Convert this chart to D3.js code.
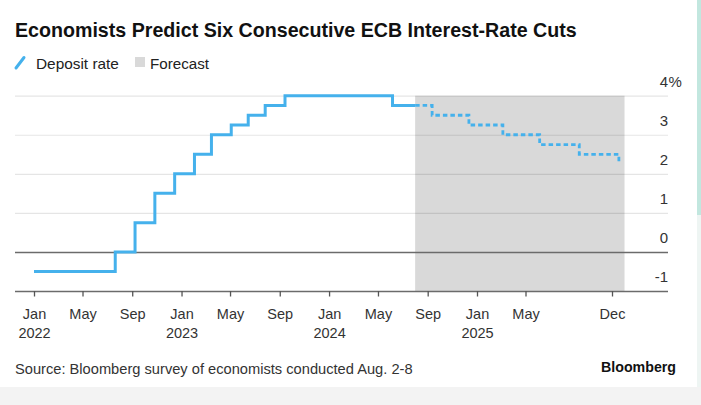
<!DOCTYPE html>
<html>
<head>
<meta charset="utf-8">
<script src="https://cdn.jsdelivr.net/npm/d3@7"></script>
<style>
  html, body { margin: 0; padding: 0; background: #fff; }
  svg { display: block; font-family: "Liberation Sans", Arial, sans-serif; }
</style>
</head>
<body>
<svg id="chart" width="701" height="405"></svg>
<script>
// ECB deposit rate: step dates (policy decisions) and the level set on each
const rateDates  = ["2022-01-01", "2022-07-21", "2022-09-08", "2022-10-27", "2022-12-15",
                    "2023-02-02", "2023-03-16", "2023-05-04", "2023-06-15", "2023-07-27",
                    "2023-09-14", "2024-06-06", "2024-08-01"];
const rateValues = [-0.5, 0, 0.75, 1.5, 2.0, 2.5, 3.0, 3.25, 3.5, 3.75, 4.0, 3.75, 3.75];

// Economists' forecast path: six consecutive cuts
const forecastDates  = ["2024-08-01", "2024-09-12", "2024-12-12", "2025-03-06",
                        "2025-06-05", "2025-09-11", "2025-12-18"];
const forecastValues = [3.75, 3.5, 3.25, 3.0, 2.75, 2.5, 2.25];

// Shaded forecast window
const forecastWindow = ["2024-08-01", "2026-01-01"];

// Axis ticks
const xTickDates  = ["2022-01-01", "2022-05-01", "2022-09-01", "2023-01-01", "2023-05-01",
                     "2023-09-01", "2024-01-01", "2024-05-01", "2024-09-01", "2025-01-01",
                     "2025-05-01", "2025-12-01"];
const xTickMonths = ["Jan", "May", "Sep", "Jan", "May", "Sep", "Jan", "May", "Sep", "Jan", "May", "Dec"];
const xTickYears  = ["2022", "", "", "2023", "", "", "2024", "", "", "2025", "", ""];
const yTicks = [-1, 0, 1, 2, 3, 4];
const yTickLabels = ["-1", "0", "1", "2", "3", "4"];

const parse = d3.utcParse("%Y-%m-%d");
const svg = d3.select("#chart");

// page edge decorations
svg.append("rect").attr("x", 697).attr("y", 0).attr("width", 4).attr("height", 215).attr("fill", "#c2e7df");
svg.append("rect").attr("x", 697).attr("y", 215).attr("width", 4).attr("height", 172).attr("fill", "#eef5f3");
svg.append("rect").attr("x", 0).attr("y", 387).attr("width", 701).attr("height", 18).attr("fill", "#f3f3f3");

const plotLeft = 15, plotRight = 668;

const x = d3.scaleUtc()
  .domain([parse("2022-01-01"), parse("2025-01-01")])
  .range([34, 477]);
const y = d3.scaleLinear().domain([-1, 4]).range([291, 95.7]);

const blue = "#45b1ec";

// title
const title = svg.append("text")
  .attr("x", 15).attr("y", 37)
  .attr("font-size", 18.5).attr("font-weight", "bold").attr("fill", "#111")
  .text("Economists Predict Six Consecutive ECB Interest-Rate Cuts");

function fitWidth(sel, w) {
  const fs = +sel.attr("font-size");
  const len = sel.node().getComputedTextLength();
  sel.attr("font-size", (fs * w / len).toFixed(2));
}
fitWidth(title, 562);

// legend
const legend = svg.append("g");
legend.append("line")
  .attr("x1", 16).attr("y1", 68).attr("x2", 24).attr("y2", 57.5)
  .attr("stroke", blue).attr("stroke-width", 3).attr("stroke-linecap", "round");
const lg1 = legend.append("text").attr("x", 36).attr("y", 68.5)
  .attr("font-size", 14.5).attr("fill", "#222").text("Deposit rate");
fitWidth(lg1, 83);
legend.append("rect").attr("x", 135).attr("y", 57).attr("width", 10).attr("height", 10)
  .attr("fill", "#d9d9d9");
const lg2 = legend.append("text").attr("x", 150).attr("y", 68.5)
  .attr("font-size", 14.5).attr("fill", "#222").text("Forecast");
fitWidth(lg2, 59);

// forecast shading
svg.append("rect")
  .attr("x", x(parse(forecastWindow[0])))
  .attr("y", y(4))
  .attr("width", x(parse(forecastWindow[1])) - x(parse(forecastWindow[0])))
  .attr("height", y(-1) - y(4))
  .attr("fill", "#d9d9d9");

// y axis: gridlines across the plot with labels sitting above each line
const yAxis = svg.append("g")
  .attr("transform", `translate(${plotLeft},0)`)
  .call(d3.axisRight(y).tickValues(yTicks).tickSize(plotRight - plotLeft).tickPadding(0)
        .tickFormat((d, i) => yTickLabels[i]));
yAxis.select(".domain").remove();
yAxis.selectAll(".tick line")
  .attr("stroke", d => (d <= 0 ? "#6b6b6b" : "rgba(0,0,0,0.1)"))
  .attr("stroke-width", d => (d <= 0 ? 1.5 : 1.2));
yAxis.selectAll(".tick text")
  .attr("text-anchor", "end")
  .attr("dy", null)
  .attr("y", -9.5)
  .attr("font-size", 15)
  .attr("font-family", null)
  .attr("fill", "#333");
yAxis.selectAll(".tick").filter(d => d === 4)
  .append("text")
  .attr("x", plotRight - plotLeft + 0.5).attr("y", -9.5)
  .attr("font-size", 15).attr("fill", "#333").attr("text-anchor", "start")
  .text("%");

// x axis ticks and labels
const xAxis = svg.append("g")
  .attr("transform", `translate(0,${y(-1)})`)
  .call(d3.axisBottom(x).tickValues(xTickDates.map(parse)).tickSize(5.5)
        .tickFormat((d, i) => xTickMonths[i]));
xAxis.select(".domain").remove();
xAxis.selectAll(".tick line").attr("stroke", "#555").attr("stroke-width", 1.3);
xAxis.selectAll(".tick text")
  .attr("dy", null).attr("y", 27.5)
  .attr("font-size", 14.5).attr("font-family", null).attr("fill", "#333")
  .each(function (d, i) {
    if (xTickYears[i]) {
      d3.select(this).append("tspan").attr("x", 0).attr("dy", 19.5).text(xTickYears[i]);
    }
  });

// deposit rate line
const stepLine = d3.line()
  .x(d => x(d.date)).y(d => y(d.value))
  .curve(d3.curveStepAfter);

const actual = rateDates.map((d, i) => ({ date: parse(d), value: rateValues[i] }));
const forecast = forecastDates.map((d, i) => ({ date: parse(d), value: forecastValues[i] }));

svg.append("path").datum(forecast)
  .attr("d", stepLine)
  .attr("fill", "none").attr("stroke", blue).attr("stroke-width", 2.8)
  .attr("stroke-dasharray", "4.5,3");

svg.append("path").datum(actual)
  .attr("d", stepLine)
  .attr("fill", "none").attr("stroke", blue).attr("stroke-width", 3)
  .attr("stroke-linejoin", "miter");

// footer
const src = svg.append("text").attr("x", 15).attr("y", 374)
  .attr("font-size", 14).attr("fill", "#333")
  .text("Source: Bloomberg survey of economists conducted Aug. 2-8");
fitWidth(src, 398);
const brand = svg.append("text").attr("x", 676).attr("y", 372)
  .attr("text-anchor", "end").attr("font-size", 14).attr("font-weight", "bold").attr("fill", "#111")
  .text("Bloomberg");
fitWidth(brand, 75);
</script>
</body>
</html>
